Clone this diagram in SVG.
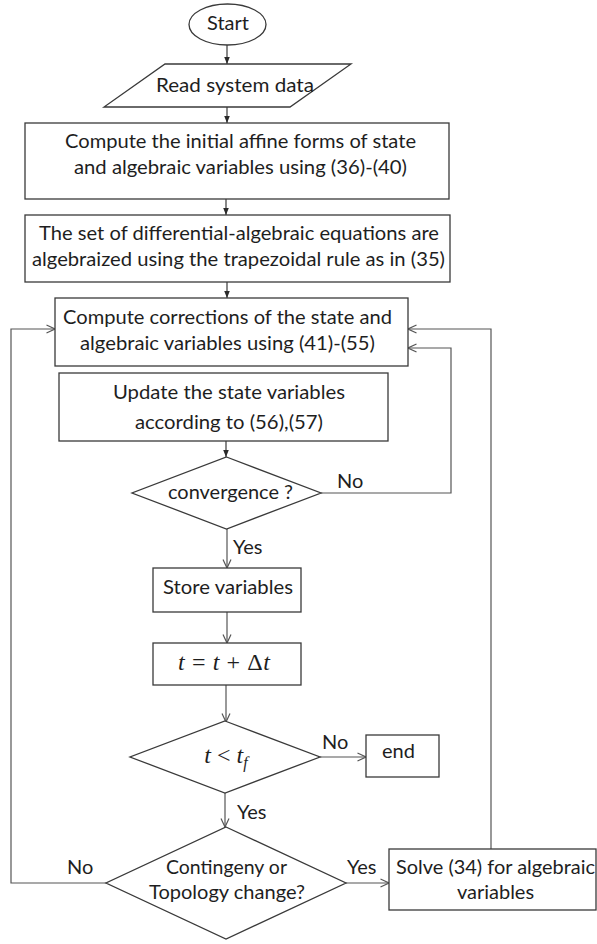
<svg xmlns="http://www.w3.org/2000/svg" width="597" height="944" viewBox="0 0 597 944">
  <defs>
    <style>
      .shape { fill: #ffffff; stroke: #3a3a3a; stroke-width: 1.3; }
      .txt { font-family: Lato, "Liberation Sans", sans-serif; font-size: 20px; fill: #1e1e1e; text-anchor: middle; }
      .lbl { font-family: Lato, "Liberation Sans", sans-serif; font-size: 20px; fill: #1e1e1e; }
      .math { font-family: "Liberation Serif", "DejaVu Serif", serif; font-size: 24px; fill: #1e1e1e; text-anchor: middle; }
      .it { font-style: italic; }
      .link { fill: none; stroke: #3a3a3a; stroke-width: 1.2; }
      .link-solid { marker-end: url(#head-solid); }
      .link-open { marker-end: url(#head-open); stroke: #555555; }
    </style>
    <marker id="head-solid" viewBox="0 0 8 8" refX="8" refY="4" markerWidth="7" markerHeight="7" markerUnits="userSpaceOnUse" orient="auto">
      <path d="M0,0.8 L8,4 L0,7.2 z" fill="#2a2a2a"/>
    </marker>
    <marker id="head-open" viewBox="0 0 10 10" refX="9.5" refY="5" markerWidth="10" markerHeight="10" markerUnits="userSpaceOnUse" orient="auto">
      <path d="M1,1 L9.5,5 L1,9" fill="none" stroke="#555555" stroke-width="1.2"/>
    </marker>
  </defs>

  <!-- connectors -->
  <g id="connectors">
    <line class="link link-solid" x1="227" y1="45" x2="227" y2="64"/>
    <line class="link link-solid" x1="227" y1="107" x2="227" y2="123"/>
    <line class="link link-solid" x1="226" y1="199" x2="226" y2="215"/>
    <line class="link link-solid" x1="227" y1="282" x2="227" y2="298"/>
    <line class="link link-solid" x1="226" y1="441" x2="226" y2="457"/>
    <polyline class="link link-open" points="321,493 451,493 451,348 408,348"/>
    <line class="link link-open" x1="227" y1="529" x2="227" y2="568"/>
    <line class="link link-open" x1="227" y1="612" x2="227" y2="643"/>
    <line class="link link-open" x1="226" y1="685" x2="226" y2="722"/>
    <line class="link link-open" x1="320" y1="757" x2="366" y2="757"/>
    <line class="link link-open" x1="225" y1="793" x2="225" y2="827"/>
    <polyline class="link link-open" points="106,883 11,883 11,329 55,329"/>
    <line class="link link-open" x1="346" y1="883" x2="389" y2="883"/>
    <polyline class="link link-open" points="491,849 491,329 408,329"/>
    <text class="lbl" x="337" y="488">No</text>
    <text class="lbl" x="233" y="554">Yes</text>
    <text class="lbl" x="322" y="749">No</text>
    <text class="lbl" x="237" y="819">Yes</text>
    <text class="lbl" x="67" y="874">No</text>
    <text class="lbl" x="347" y="874">Yes</text>
  </g>

  <g id="start">
    <ellipse class="shape" cx="227.5" cy="24.5" rx="38.5" ry="20.5"/>
    <text class="txt" x="228" y="30">Start</text>
  </g>

  <g id="read-data">
    <polygon class="shape" points="165,64 351,64 290,107 104,107"/>
    <text class="txt" x="235" y="92" textLength="158" lengthAdjust="spacingAndGlyphs">Read system data</text>
  </g>

  <g id="init-affine">
    <rect class="shape" x="25" y="123" width="424" height="76"/>
    <text class="txt" x="240.5" y="148" textLength="351" lengthAdjust="spacingAndGlyphs">Compute the initial affine forms of state</text>
    <text class="txt" x="240.5" y="174" textLength="333" lengthAdjust="spacingAndGlyphs">and algebraic variables using (36)-(40)</text>
  </g>

  <g id="algebraize">
    <rect class="shape" x="25" y="215" width="425" height="67"/>
    <text class="txt" x="239" y="240" textLength="400" lengthAdjust="spacingAndGlyphs">The set of differential-algebraic equations are</text>
    <text class="txt" x="238.5" y="266" textLength="413" lengthAdjust="spacingAndGlyphs">algebraized using the trapezoidal rule as in (35)</text>
  </g>

  <g id="corrections">
    <rect class="shape" x="55" y="298" width="353" height="68"/>
    <text class="txt" x="227.5" y="324" textLength="329" lengthAdjust="spacingAndGlyphs">Compute corrections of the state and</text>
    <text class="txt" x="227.5" y="350" textLength="295" lengthAdjust="spacingAndGlyphs">algebraic variables using (41)-(55)</text>
  </g>

  <g id="update-state">
    <rect class="shape" x="59" y="373" width="329" height="68"/>
    <text class="txt" x="229" y="399" textLength="232" lengthAdjust="spacingAndGlyphs">Update the state variables</text>
    <text class="txt" x="229" y="429" textLength="188" lengthAdjust="spacingAndGlyphs">according to (56),(57)</text>
  </g>

  <g id="convergence">
    <polygon class="shape" points="226.5,457 321,493 226.5,529 132,493"/>
    <text class="txt" x="230.5" y="499" textLength="125" lengthAdjust="spacingAndGlyphs">convergence ?</text>
  </g>

  <g id="store">
    <rect class="shape" x="153" y="568" width="148" height="44"/>
    <text class="txt" x="228" y="594" textLength="130" lengthAdjust="spacingAndGlyphs">Store variables</text>
  </g>

  <g id="time-step">
    <rect class="shape" x="153" y="643" width="148" height="42"/>
    <text class="math" x="224" y="670" textLength="92" lengthAdjust="spacing"><tspan class="it">t</tspan> = <tspan class="it">t</tspan> + Δ<tspan class="it">t</tspan></text>
  </g>

  <g id="time-check">
    <polygon class="shape" points="225,721 320,757 225,793 130,757"/>
    <text class="math" x="226" y="763"><tspan class="it">t</tspan> &lt; <tspan class="it">t</tspan><tspan class="it" font-size="16" dy="5">f</tspan></text>
  </g>

  <g id="end">
    <rect class="shape" x="366" y="735" width="73" height="42"/>
    <text class="txt" x="398.5" y="758">end</text>
  </g>

  <g id="contingency">
    <polygon class="shape" points="226,827 346,883 226,939 106,883"/>
    <text class="txt" x="226.5" y="874" textLength="121" lengthAdjust="spacingAndGlyphs">Contingeny or</text>
    <text class="txt" x="227" y="899" textLength="156" lengthAdjust="spacingAndGlyphs">Topology change?</text>
  </g>

  <g id="solve-algebraic">
    <rect class="shape" x="389" y="849" width="207" height="61"/>
    <text class="txt" x="495.5" y="874" textLength="199" lengthAdjust="spacingAndGlyphs">Solve (34) for algebraic</text>
    <text class="txt" x="495.5" y="899">variables</text>
  </g>
</svg>
